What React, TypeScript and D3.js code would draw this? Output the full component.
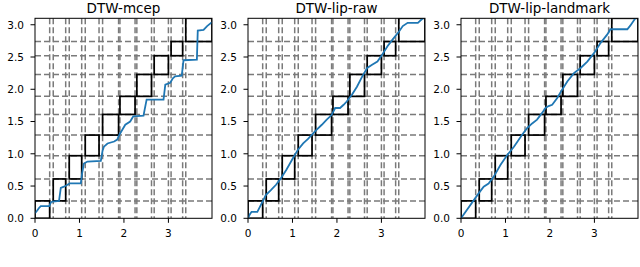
import React from 'react';
import * as d3 from 'd3';

const titles = ['DTW-mcep', 'DTW-lip-raw', 'DTW-lip-landmark'];

// segment boundaries (x: source segments have small gaps, y: target segments are contiguous)
const xStarts = [0, 0.41, 0.77, 1.13, 1.52, 1.91, 2.29, 2.68, 3.06, 3.39];
const xEnds = [0.33, 0.69, 1.05, 1.44, 1.88, 2.25, 2.62, 3.0, 3.32, 3.98];
const yBounds = [0, 0.27, 0.61, 0.97, 1.29, 1.61, 1.89, 2.23, 2.52, 2.74, 3.1];

const xTicks = [0, 1, 2, 3];
const yTicks = [0, 0.5, 1, 1.5, 2, 2.5, 3];

const pathMcep = [
  [0.0, 0.08], [0.05, 0.12], [0.09, 0.16], [0.13, 0.19], [0.32, 0.19], [0.36, 0.25],
  [0.4, 0.26], [0.54, 0.27], [0.58, 0.47], [0.65, 0.49], [0.73, 0.52], [0.78, 0.54],
  [1.03, 0.54], [1.06, 0.7], [1.1, 0.85], [1.18, 0.88], [1.48, 0.89], [1.52, 1.05],
  [1.55, 1.11], [1.63, 1.16], [1.78, 1.19], [1.85, 1.22], [1.9, 1.3], [1.97, 1.38],
  [2.03, 1.45], [2.14, 1.5], [2.21, 1.58], [2.44, 1.59], [2.47, 1.7], [2.51, 1.84],
  [2.89, 1.84], [2.93, 2.07], [3.04, 2.1], [3.1, 2.17], [3.15, 2.2], [3.3, 2.21],
  [3.34, 2.45], [3.64, 2.46], [3.66, 2.91], [3.79, 2.92], [3.87, 2.98], [3.98, 3.04],
];

const pathLipRaw = [
  [0, 0], [0.04, 0.06], [0.08, 0.1], [0.21, 0.1], [0.27, 0.18], [0.33, 0.26],
  [0.4, 0.36], [0.52, 0.44], [0.63, 0.52], [0.74, 0.62], [0.86, 0.75], [1.01, 0.93],
  [1.12, 1.06], [1.24, 1.16], [1.35, 1.23], [1.47, 1.32], [1.54, 1.37], [1.66, 1.45],
  [1.77, 1.53], [1.88, 1.6], [1.96, 1.71], [2.07, 1.71], [2.15, 1.76], [2.22, 1.81],
  [2.34, 1.92], [2.45, 2.04], [2.57, 2.2], [2.68, 2.33], [2.79, 2.38], [2.91, 2.43],
  [3.02, 2.54], [3.14, 2.67], [3.25, 2.77], [3.4, 2.9], [3.48, 2.98], [3.59, 3.03],
  [3.82, 3.03], [3.93, 3.1], [3.98, 3.15],
];

const pathLipLandmark = [
  [0, 0], [0.4, 0.39], [0.51, 0.49], [0.62, 0.54], [0.74, 0.65], [0.89, 0.83],
  [1.04, 0.98], [1.19, 1.11], [1.26, 1.18], [1.37, 1.29], [1.49, 1.4], [1.6, 1.47],
  [1.71, 1.53], [1.82, 1.63], [1.9, 1.71], [1.97, 1.74], [2.05, 1.76], [2.16, 1.86],
  [2.27, 1.99], [2.39, 2.12], [2.54, 2.25], [2.69, 2.33], [2.84, 2.43], [2.99, 2.56],
  [3.14, 2.72], [3.29, 2.85], [3.36, 2.93], [3.74, 2.93], [3.81, 2.99], [3.92, 3.1],
  [3.98, 3.16],
];

const paths = [pathMcep, pathLipRaw, pathLipLandmark];

const panelLefts = [35, 248, 461];
const panelWidth = 177;
const top = 18.3;
const bottom = 218.3;
const font = 'DejaVu Sans, sans-serif';

function Panel({ idx }: { idx: number }) {
  const left = panelLefts[idx];
  const x = d3.scaleLinear().domain([0, 3.98]).range([left, left + panelWidth]);
  const y = d3.scaleLinear().domain([0, 3.1]).range([bottom, top]);
  const line = d3.line<number[]>().x(d => x(d[0])).y(d => y(d[1]));

  const vLines = [...xStarts.slice(1), ...xEnds.slice(0, -1)];
  const hLines = yBounds.slice(1, -1);
  const clipId = 'clip' + idx;

  return (
    <g>
      <clipPath id={clipId}>
        <rect x={left} y={top} width={panelWidth} height={bottom - top} />
      </clipPath>
      <g clipPath={`url(#${clipId})`}>
        {hLines.map((v, i) => (
          <line key={'h' + i} x1={left} x2={left + panelWidth} y1={y(v)} y2={y(v)}
            stroke="#7a7a7a" strokeWidth={1.5} strokeDasharray="6,3" />
        ))}
        {vLines.map((v, i) => (
          <line key={'v' + i} x1={x(v)} x2={x(v)} y1={top} y2={bottom}
            stroke="#7a7a7a" strokeWidth={1.5} strokeDasharray="6,3" />
        ))}
        {xStarts.map((s, i) => (
          <rect key={'b' + i} x={x(s)} y={y(yBounds[i + 1])}
            width={x(xEnds[i]) - x(s)} height={y(yBounds[i]) - y(yBounds[i + 1])}
            fill="none" stroke="#000" strokeWidth={1.7} />
        ))}
        <path d={line(paths[idx]) || ''} fill="none" stroke="#1f77b4" strokeWidth={1.8} />
      </g>
      <rect x={left} y={top} width={panelWidth} height={bottom - top} fill="none" stroke="#000" strokeWidth={1} />
      {xTicks.map(t => (
        <g key={'xt' + t}>
          <line x1={x(t)} x2={x(t)} y1={bottom} y2={bottom + 4.5} stroke="#000" strokeWidth={1} />
          <text x={x(t)} y={237} textAnchor="middle" fontSize={10.5} fontFamily={font}>{t}</text>
        </g>
      ))}
      {yTicks.map(t => (
        <g key={'yt' + t}>
          <line x1={left - 4.5} x2={left} y1={y(t)} y2={y(t)} stroke="#000" strokeWidth={1} />
          <text x={left - 11} y={y(t)} dy="0.36em" textAnchor="end" fontSize={10.5} fontFamily={font}>{t.toFixed(1)}</text>
        </g>
      ))}
      <text x={left + panelWidth / 2} y={13} textAnchor="middle" fontSize={13.5} fontFamily={font}>{titles[idx]}</text>
    </g>
  );
}

export default function App() {
  return (
    <svg width={640} height={267} style={{ position: 'absolute', left: 0, top: 0, background: '#fff' }}>
      <rect width={640} height={267} fill="#fff" />
      {titles.map((_, i) => <Panel key={i} idx={i} />)}
    </svg>
  );
}
